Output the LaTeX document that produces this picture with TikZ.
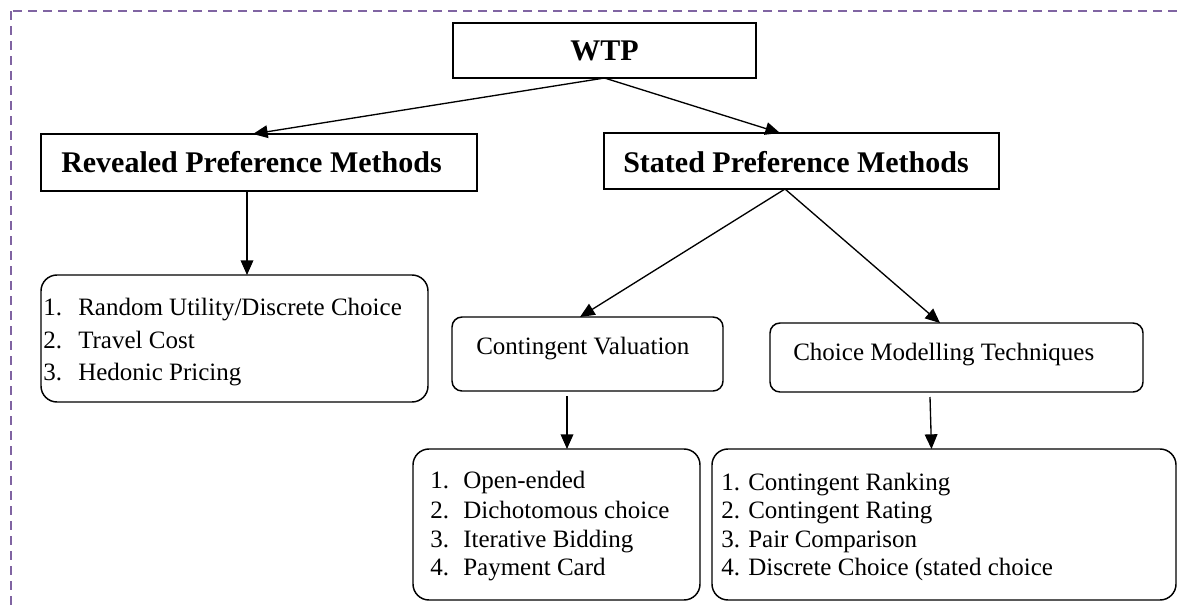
\documentclass[tikz,border=0pt]{standalone}
\usepackage{fontspec}
\setmainfont{Liberation Serif}
\usetikzlibrary{arrows.meta,calc,fit}
\definecolor{framecol}{RGB}{128,100,162}
\begin{document}
\begin{tikzpicture}[x=0.75pt,y=-0.75pt,
  box/.style={draw,line width=1.1pt,inner sep=0pt,outer sep=0pt},
  rbox/.style={box,rounded corners=7.5pt},
  lbox/.style={box,rounded corners=12pt},
  hd/.style={font=\fontsize{22.5}{27}\selectfont\bfseries,inner sep=0pt,anchor=base west},
  tx/.style={font=\fontsize{18.75}{22}\selectfont,inner sep=0pt,anchor=base west},
  arr/.style={line width=1pt,-{Triangle[length=11pt,width=9.5pt]}}
]
\useasboundingbox (0,0) rectangle (1178,607);
\begin{scope}
  \clip (0,0) rectangle (1178,607);
  \draw[framecol,line width=2.2pt,dash pattern=on 6.5pt off 4.75pt] (11,11) rectangle (1195,625);
\end{scope}

% boxes
\node[box,fit={(453,23) (756,78)}] (wtp) {};
\node[box,fit={(41,134) (477,191)}] (rev) {};
\node[box,fit={(604,133) (999,189)}] (sp) {};
\node[lbox,fit={(41,275) (428,402)}] (l1) {};
\node[rbox,fit={(452,317) (723,391)}] (cv) {};
\node[rbox,fit={(770,323) (1143,392)}] (cm) {};
\node[lbox,fit={(413,449) (700,600)}] (l2) {};
\node[lbox,fit={(712,449) (1176,600)}] (l3) {};

% headings
\node[font=\fontsize{22.5}{27}\selectfont\bfseries,inner sep=0pt] (wtpt) at (wtp.center) {WTP};
\node[hd] (revt) at (61,172) {Revealed Preference Methods};
\node[hd] (spt) at (623,172) {Stated Preference Methods};
\node[tx] (cvt) at (476,354) {Contingent Valuation};
\node[tx] (cmt) at (793,360) {Choice Modelling Techniques};

% list 1
\node[tx] (l1n1) at (43,315) {1.};
\node[tx] (l1t1) at (78,315) {Random Utility/Discrete Choice};
\node[tx] (l1n2) at (43,348) {2.};
\node[tx] (l1t2) at (78,348) {Travel Cost};
\node[tx] (l1n3) at (43,380) {3.};
\node[tx] (l1t3) at (78,380) {Hedonic Pricing};

% list 2
\node[tx] (l2n1) at (430,488) {1.};
\node[tx] (l2t1) at (463,488) {Open-ended};
\node[tx] (l2n2) at (430,518) {2.};
\node[tx] (l2t2) at (463,518) {Dichotomous choice};
\node[tx] (l2n3) at (430,547) {3.};
\node[tx] (l2t3) at (463,547) {Iterative Bidding};
\node[tx] (l2n4) at (430,575) {4.};
\node[tx] (l2t4) at (463,575) {Payment Card};

% list 3
\node[tx] (l3n1) at (721,490) {1.};
\node[tx] (l3t1) at (748,490) {Contingent Ranking};
\node[tx] (l3n2) at (721,518) {2.};
\node[tx] (l3t2) at (748,518) {Contingent Rating};
\node[tx] (l3n3) at (721,547) {3.};
\node[tx] (l3t3) at (748,547) {Pair Comparison};
\node[tx] (l3n4) at (721,575) {4.};
\node[tx] (l3t4) at (748,575) {Discrete Choice (stated choice};

% connectors
\draw[arr] (wtp.south) -- ($(rev.north)+(-6,0)$);
\draw[arr] (wtp.south) -- ($(sp.north)+(-21.5,0)$);
\draw[arr] ($(rev.south)+(-12,0)$) -- ($(l1.north)+(12.5,0)$);
\draw[arr] ($(sp.south)+(-16.5,0)$) -- ($(cv.north)+(-7.5,0)$);
\draw[arr] ($(sp.south)+(-16.5,0)$) -- ($(cm.north)+(-16.5,0)$);
\draw[arr] ($(cv.south)+(-20.5,5)$) -- ($(l2.north)+(10.5,0)$);
\draw[arr] ($(cm.south)+(-26.5,5)$) -- ($(l3.north)+(-12.5,0)$);
\end{tikzpicture}
\end{document}
